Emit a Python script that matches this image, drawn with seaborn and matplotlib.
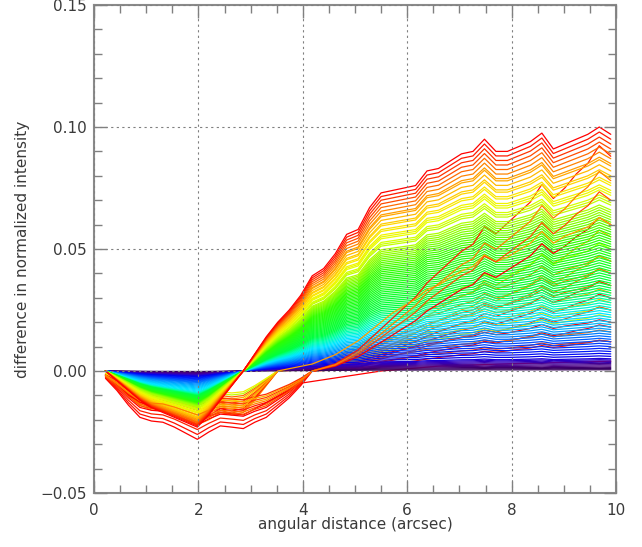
import numpy as np
import pandas as pd
import matplotlib
matplotlib.use("Agg")
import matplotlib.pyplot as plt
from matplotlib.colors import LinearSegmentedColormap
from matplotlib.ticker import MultipleLocator, FuncFormatter
import seaborn as sns

# sample positions along the cut (arcsec), 45 points 0.22" apart
x_arcsec = np.round(np.arange(1, 46) * 0.22, 2)

# upper curve of the main fan (reddest line), crosses zero near 2.86"
fan_profile = [0.000, -0.004, -0.008, -0.012, -0.015, -0.017, -0.019, -0.021, -0.023,
               -0.018, -0.012, -0.006, 0.000, 0.007, 0.014, 0.020, 0.025, 0.031,
               0.039, 0.042, 0.048, 0.056, 0.058, 0.067, 0.073, 0.074, 0.075, 0.076,
               0.082, 0.083, 0.086, 0.089, 0.090, 0.095, 0.090, 0.090, 0.092, 0.094,
               0.0975, 0.091, 0.093, 0.095, 0.097, 0.100, 0.097]

# deepest red line, crosses zero late (~4.2") and climbs slowly afterwards
late_profile_a = [-0.003, -0.008, -0.014, -0.019, -0.0205, -0.021, -0.023, -0.0255, -0.028,
                  -0.025, -0.0225, -0.023, -0.0236, -0.021, -0.019, -0.015, -0.011, -0.006,
                  0.000, 0.001, 0.002, 0.004, 0.006, 0.009, 0.012, 0.015, 0.018, 0.021,
                  0.025, 0.028, 0.031, 0.034, 0.036, 0.041, 0.039, 0.042, 0.045, 0.048,
                  0.053, 0.049, 0.052, 0.056, 0.059, 0.064, 0.061]

# orange lines crossing zero near 3.5"
late_profile_b = [-0.002, -0.006, -0.010, -0.014, -0.016, -0.016, -0.018, -0.020, -0.022,
                  -0.020, -0.017, -0.018, -0.017, -0.012, -0.006, 0.000, 0.001, 0.002,
                  0.003, 0.005, 0.007, 0.010, 0.013, 0.017, 0.021, 0.025, 0.028, 0.031,
                  0.035, 0.037, 0.040, 0.043, 0.045, 0.050, 0.047, 0.049, 0.052, 0.055,
                  0.060, 0.055, 0.058, 0.060, 0.062, 0.066, 0.063]

# value of each fan line at the right end
fan_end = [0.097, 0.095, 0.093, 0.091, 0.089, 0.087, 0.085, 0.084, 0.082, 0.080, 0.079,
           0.077, 0.076, 0.074, 0.073, 0.072, 0.070, 0.069, 0.068, 0.066, 0.065, 0.064,
           0.063, 0.062, 0.061, 0.060, 0.059, 0.058, 0.057, 0.056, 0.055, 0.054, 0.053,
           0.052, 0.051, 0.050, 0.049, 0.048, 0.047, 0.046, 0.045, 0.044, 0.043, 0.042,
           0.041, 0.040, 0.039, 0.038, 0.037, 0.036, 0.035, 0.034, 0.033, 0.032, 0.031,
           0.030, 0.029, 0.028, 0.027, 0.026, 0.025, 0.024, 0.023, 0.022, 0.021, 0.020,
           0.019, 0.018, 0.017, 0.016, 0.015, 0.014, 0.013, 0.012, 0.011, 0.010, 0.009,
           0.008, 0.007, 0.006, 0.005, 0.0045, 0.004, 0.0035, 0.003, 0.0025, 0.002,
           0.0015, 0.001, 0.0005]

# depth of the fan dip at 2" against the line's end value
dip_end_ref = [0.0, 0.004, 0.015, 0.025, 0.065, 0.080, 0.097]
dip_depth_ref = [0.0, 0.0017, 0.005, 0.009, 0.0145, 0.019, 0.023]

# late lines: depth of the dip, value at the right end, colour
late_a_dip = [0.028, 0.026, 0.024, 0.022, 0.021, 0.020, 0.019, 0.018, 0.017, 0.016, 0.015, 0.014]
late_a_end = [0.060, 0.030, 0.088, 0.018, 0.070, 0.040, 0.012, 0.078, 0.045, 0.025, 0.055, 0.035]
late_a_colors = ["#ff0000", "#ff1000", "#ff2000", "#ff0000", "#ff5000", "#ff7000",
                 "#ff1800", "#ff8000", "#ffa000", "#ff4000", "#ffb000", "#ff3000"]

late_b_dip = [0.022, 0.021, 0.020, 0.019, 0.018, 0.017, 0.016, 0.015, 0.014, 0.013, 0.012, 0.011]
late_b_end = [0.045, 0.035, 0.020, 0.060, 0.028, 0.040, 0.012, 0.025, 0.032, 0.016, 0.050, 0.022]
late_b_colors = ["#ff9000", "#ff6000", "#ff0000", "#ffa000", "#ffc000", "#ff8000",
                 "#ff4000", "#ffd800", "#ffa800", "#ff6800", "#c0ff00", "#f0f000"]

# one red line with a long straight segment back to zero
odd_x = [0.22, 0.66, 1.10, 1.54, 1.98, 2.42, 2.86, 3.30, 3.74, 3.96, 5.50, 6.60, 8.00, 9.90]
odd_y = [-0.002, -0.010, -0.015, -0.017, -0.020, -0.017, -0.018, -0.013, -0.008, -0.005,
         0.000, 0.002, 0.003, 0.004]

# colour of a fan line against its end value
fan_color_stops = [(0.000, "#300050"), (0.002, "#4a0080"), (0.004, "#3000c0"),
                   (0.006, "#0000f0"), (0.010, "#0030ff"), (0.014, "#0070ff"),
                   (0.018, "#00b0ff"), (0.023, "#00e8ff"), (0.028, "#00ffb0"),
                   (0.034, "#00ff40"), (0.055, "#30ff00"), (0.065, "#a0ff00"),
                   (0.072, "#e8ff00"), (0.078, "#ffe000"), (0.085, "#ffa000"),
                   (0.091, "#ff5000"), (0.097, "#ff0000")]

sns.set_style("ticks")
plt.rcParams["font.family"] = ["DejaVu Sans"]

top = fan_color_stops[-1][0]
cmap = LinearSegmentedColormap.from_list("fan", [(v / top, c) for v, c in fan_color_stops])

rows = []
palette = {}

fan = np.array(fan_profile)
neg_shape = np.where(fan < 0, fan / -fan.min(), 0.0)
pos_shape = np.where(fan > 0, fan / fan[-1], 0.0)
fan_ids = []
for i, e in enumerate(sorted(fan_end)):
    lid = f"fan{i}"
    d = np.interp(e, dip_end_ref, dip_depth_ref)
    for xv, yv in zip(x_arcsec, neg_shape * d + pos_shape * e):
        rows.append((xv, yv, lid))
    palette[lid] = cmap(min(e / top, 1.0))
    fan_ids.append(lid)


def late_curve(profile, dip, end):
    p = np.array(profile)
    return np.where(p < 0, p * dip / -p.min(), p * end / p[-1])


late_low, late_high = [], []
for k in range(len(late_a_dip)):
    for name, prof, dips, ends, cols in (("a", late_profile_a, late_a_dip, late_a_end, late_a_colors),
                                         ("b", late_profile_b, late_b_dip, late_b_end, late_b_colors)):
        lid = f"late_{name}{k}"
        for xv, yv in zip(x_arcsec, late_curve(prof, dips[k], ends[k])):
            rows.append((xv, yv, lid))
        palette[lid] = cols[k]
        (late_high if ends[k] >= 0.06 else late_low).append(lid)

for xv, yv in zip(odd_x, odd_y):
    rows.append((xv, yv, "odd"))
palette["odd"] = "#ff0000"

# most late lines sit under the fan; the tall ones are slipped in among the upper fan
order = late_low + ["odd"]
start = int(0.55 * len(fan_ids))
step = (len(fan_ids) - start) / (len(late_high) + 1)
j = 0
for i, fid in enumerate(fan_ids):
    order.append(fid)
    while j < len(late_high) and i >= start + (j + 1) * step:
        order.append(late_high[j])
        j += 1
order += late_high[j:]

df = pd.DataFrame(rows, columns=["x", "y", "line"])

fig = plt.figure(figsize=(6.42, 5.47), dpi=100)
ax = fig.add_axes([94 / 642, 54 / 547, 522 / 642, 488 / 547])
sns.lineplot(data=df, x="x", y="y", hue="line", hue_order=order, palette=palette,
             estimator=None, sort=False, legend=False, linewidth=0.9, ax=ax, zorder=2)

ax.set_xlim(0, 10)
ax.set_ylim(-0.05, 0.15)
ax.xaxis.set_major_locator(MultipleLocator(2))
ax.xaxis.set_minor_locator(MultipleLocator(0.5))
ax.yaxis.set_major_locator(MultipleLocator(0.05))
ax.yaxis.set_minor_locator(MultipleLocator(0.01))
ax.xaxis.set_major_formatter(FuncFormatter(lambda v, p: f"{v:.0f}"))
ax.yaxis.set_major_formatter(FuncFormatter(lambda v, p: f"{v:.2f}".replace("-", "\u2212")))

ax.set_axisbelow(False)
ax.grid(True, which="major", color="#808080", linestyle=(0, (2, 3)), linewidth=0.8)
ax.tick_params(which="both", direction="in", top=True, right=True, color="#808080",
               width=1.0, labelcolor="#3a3a3a", labelsize=11)
ax.tick_params(which="major", length=9)
ax.tick_params(which="minor", length=5.5)
ax.tick_params(axis="x", pad=7)
ax.tick_params(axis="y", pad=5)
for s in ax.spines.values():
    s.set_color("#8a8a8a")
    s.set_linewidth(1.5)

ax.set_xlabel("angular distance (arcsec)", fontsize=11, color="#3a3a3a")
ax.set_ylabel("difference in normalized intensity", fontsize=11, color="#3a3a3a")
ax.xaxis.set_label_coords(0.5, -0.05)
ax.yaxis.set_label_coords(-0.122, 0.5)

fig.savefig("out.png", dpi=100, facecolor="white")
